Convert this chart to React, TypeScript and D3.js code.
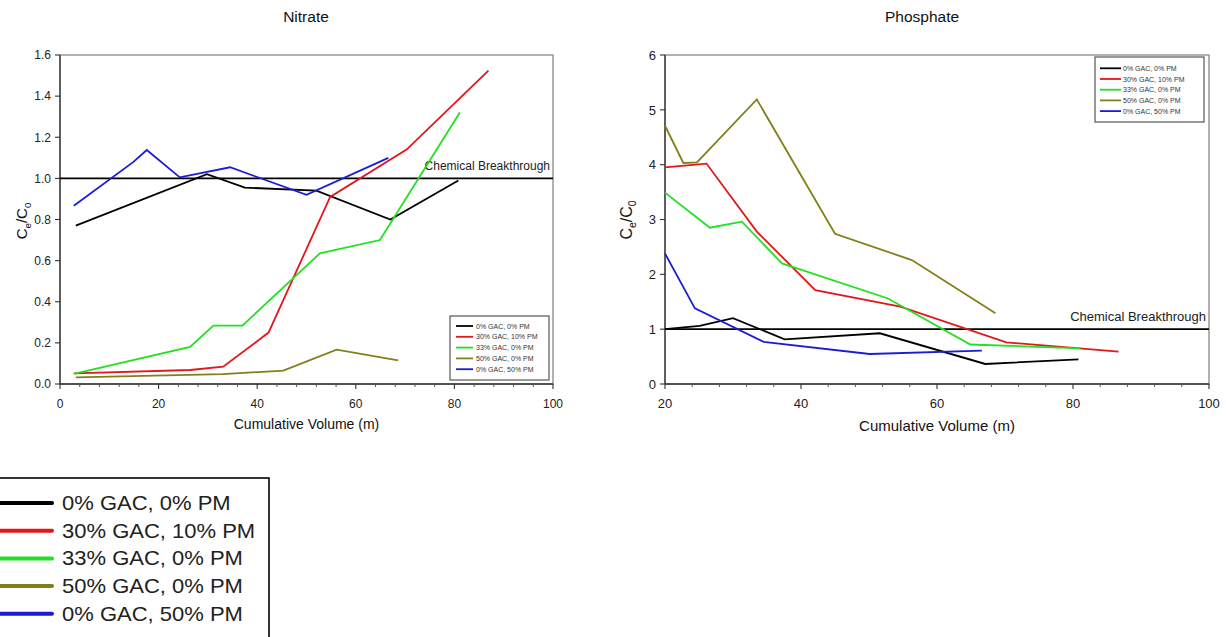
import React from "react";
import * as d3 from "d3";

const seriesNames = ["0% GAC, 0% PM", "30% GAC, 10% PM", "33% GAC, 0% PM", "50% GAC, 0% PM", "0% GAC, 50% PM"];
const seriesColors = ["#000000", "#e3161b", "#22e022", "#80801a", "#1c1cd8"];

// Nitrate
const nitrateBlackX = [3.2, 29.8, 37.5, 52, 67, 80.8];
const nitrateBlackY = [0.77, 1.02, 0.955, 0.94, 0.8, 0.99];
const nitrateRedX = [2.8, 26.4, 33.1, 42.3, 54.8, 70.3, 86.9];
const nitrateRedY = [0.052, 0.068, 0.084, 0.25, 0.91, 1.14, 1.524];
const nitrateGreenX = [2.8, 26.4, 31.1, 37, 52.7, 64.9, 81.1];
const nitrateGreenY = [0.049, 0.18, 0.284, 0.284, 0.635, 0.7, 1.32];
const nitrateOliveX = [3.2, 33, 45.3, 56.1, 68.6];
const nitrateOliveY = [0.032, 0.048, 0.065, 0.167, 0.115];
const nitrateBlueX = [2.8, 14.9, 17.6, 24.3, 34.5, 50, 66.6];
const nitrateBlueY = [0.867, 1.08, 1.138, 1.005, 1.054, 0.92, 1.1];

// Phosphate
const phosBlackX = [20, 25.1, 30, 37.6, 51.6, 67.1, 80.8];
const phosBlackY = [1.0, 1.06, 1.2, 0.815, 0.925, 0.365, 0.45];
const phosRedX = [20, 26.1, 33.5, 42.1, 54.6, 70.2, 86.7];
const phosRedY = [3.95, 4.02, 2.78, 1.71, 1.41, 0.76, 0.59];
const phosGreenX = [20, 26.6, 31.3, 37.2, 52.8, 64.9, 81.1];
const phosGreenY = [3.49, 2.85, 2.96, 2.2, 1.56, 0.72, 0.65];
const phosOliveX = [20, 22.7, 24.7, 33.5, 45, 56.3, 68.6];
const phosOliveY = [4.71, 4.03, 4.04, 5.19, 2.74, 2.26, 1.29];
const phosBlueX = [20, 24.4, 34.5, 50.1, 66.6];
const phosBlueY = [2.38, 1.38, 0.77, 0.547, 0.61];

const nitrateXTicks = [0, 20, 40, 60, 80, 100];
const nitrateYTicks = [0, 0.2, 0.4, 0.6, 0.8, 1.0, 1.2, 1.4, 1.6];
const phosXTicks = [20, 40, 60, 80, 100];
const phosYTicks = [0, 1, 2, 3, 4, 5, 6];
const breakthroughLevel = 1.0;
const breakthroughLabel = "Chemical Breakthrough";
const xAxisLabel = "Cumulative Volume (m)";

const FONT = "'Liberation Sans', Arial, sans-serif";

type Series = { xs: number[]; ys: number[] };

const nitrateSeries: Series[] = [
  { xs: nitrateBlackX, ys: nitrateBlackY },
  { xs: nitrateRedX, ys: nitrateRedY },
  { xs: nitrateGreenX, ys: nitrateGreenY },
  { xs: nitrateOliveX, ys: nitrateOliveY },
  { xs: nitrateBlueX, ys: nitrateBlueY },
];
const phosSeries: Series[] = [
  { xs: phosBlackX, ys: phosBlackY },
  { xs: phosRedX, ys: phosRedY },
  { xs: phosGreenX, ys: phosGreenY },
  { xs: phosOliveX, ys: phosOliveY },
  { xs: phosBlueX, ys: phosBlueY },
];

type PanelProps = {
  title: string;
  left: number; right: number; top: number; bottom: number;
  xDomain: [number, number]; yDomain: [number, number];
  xTicks: number[]; yTicks: number[]; yFmt: (v: number) => string;
  series: Series[];
  tickFont: number; labelFont: number; btFont: number;
  titleX: number;
  yLabelX: number; yLabelY: number;
  xLabelY: number;
  legend: { x0: number; x1: number; y0: number; y1: number; font: number; rowY0: number; rowStep: number; lineX0: number; lineX1: number; textX: number };
  minorStep: number;
};

function Panel(p: PanelProps) {
  const x = d3.scaleLinear().domain(p.xDomain).range([p.left, p.right]);
  const y = d3.scaleLinear().domain(p.yDomain).range([p.bottom, p.top]);
  const line = d3.line<[number, number]>().x((d) => x(d[0])).y((d) => y(d[1]));
  const minor = d3.range(p.xDomain[0], p.xDomain[1] + 0.001, p.minorStep).filter((v) => !p.xTicks.includes(v));
  const lg = p.legend;
  return (
    <g fontFamily={FONT}>
      <text x={p.titleX} y={22} textAnchor="middle" fontSize={15.5} fill="#111">{p.title}</text>
      {/* frame */}
      <rect x={p.left} y={p.top} width={p.right - p.left} height={p.bottom - p.top} fill="none" stroke="#888" strokeWidth={1.3} />
      <line x1={p.left} x2={p.left} y1={p.top} y2={p.bottom} stroke="#333" strokeWidth={1.3} />
      <line x1={p.left} x2={p.right} y1={p.bottom} y2={p.bottom} stroke="#333" strokeWidth={1.3} />
      {/* x ticks */}
      {p.xTicks.map((t) => (
        <g key={"xt" + t}>
          <line x1={x(t)} x2={x(t)} y1={p.bottom} y2={p.bottom + 5} stroke="#333" strokeWidth={1.1} />
          <text x={x(t)} y={p.bottom + 24} textAnchor="middle" fontSize={p.tickFont} fill="#222">{t}</text>
        </g>
      ))}
      {minor.map((t) => (
        <line key={"xm" + t} x1={x(t)} x2={x(t)} y1={p.bottom} y2={p.bottom + 3} stroke="#555" strokeWidth={1} />
      ))}
      {/* y ticks */}
      {p.yTicks.map((t) => (
        <g key={"yt" + t}>
          <line x1={p.left - 5} x2={p.left} y1={y(t)} y2={y(t)} stroke="#333" strokeWidth={1.1} />
          <text x={p.left - 9} y={y(t) + p.tickFont * 0.36} textAnchor="end" fontSize={p.tickFont} fill="#222">{p.yFmt(t)}</text>
        </g>
      ))}
      {/* axis labels */}
      <text x={(p.left + p.right) / 2} y={p.xLabelY} textAnchor="middle" fontSize={p.labelFont} fill="#111">{xAxisLabel}</text>
      <text transform={`translate(${p.yLabelX},${p.yLabelY}) rotate(-90)`} textAnchor="middle" fontSize={p.labelFont + 1} fill="#111">
        C<tspan fontSize={(p.labelFont + 1) * 0.65} dy={4}>e</tspan><tspan dy={-4}>/C</tspan><tspan fontSize={(p.labelFont + 1) * 0.65} dy={4}>0</tspan>
      </text>
      {/* breakthrough */}
      <line x1={p.left} x2={p.right} y1={y(breakthroughLevel)} y2={y(breakthroughLevel)} stroke="#000" strokeWidth={1.8} />
      <text x={p.right - 3} y={y(breakthroughLevel) - 8} textAnchor="end" fontSize={p.btFont} fill="#222">{breakthroughLabel}</text>
      {/* series */}
      {p.series.map((s, i) => (
        <path key={"s" + i} d={line(s.xs.map((v, j) => [v, s.ys[j]] as [number, number])) || ""} fill="none" stroke={seriesColors[i]} strokeWidth={1.8} strokeLinejoin="miter" />
      ))}
      {/* inner legend */}
      <rect x={lg.x0} y={lg.y0} width={lg.x1 - lg.x0} height={lg.y1 - lg.y0} fill="#fff" stroke="#555" strokeWidth={1.2} />
      {seriesNames.map((n, i) => (
        <g key={"lg" + i}>
          <line x1={lg.lineX0} x2={lg.lineX1} y1={lg.rowY0 + i * lg.rowStep} y2={lg.rowY0 + i * lg.rowStep} stroke={seriesColors[i]} strokeWidth={1.8} />
          <text x={lg.textX} y={lg.rowY0 + i * lg.rowStep + lg.font * 0.36} fontSize={lg.font} fill="#333">{n}</text>
        </g>
      ))}
    </g>
  );
}

export default function App() {
  return (
    <svg width={1226} height={637} style={{ position: "absolute", left: 0, top: 0, background: "#fff" }}>
      <rect x={0} y={0} width={1226} height={637} fill="#fff" />
      <Panel
        title="Nitrate"
        left={60} right={553} top={55} bottom={384}
        xDomain={[0, 100]} yDomain={[0, 1.6]}
        xTicks={nitrateXTicks} yTicks={nitrateYTicks} yFmt={(v) => v.toFixed(1)}
        series={nitrateSeries}
        tickFont={12} labelFont={14} btFont={12}
        titleX={306}
        yLabelX={27} yLabelY={221}
        xLabelY={429}
        minorStep={4}
        legend={{ x0: 450, x1: 549, y0: 316, y1: 380, font: 7, rowY0: 326, rowStep: 10.8, lineX0: 456, lineX1: 473, textX: 476 }}
      />
      <Panel
        title="Phosphate"
        left={665} right={1209} top={55} bottom={384}
        xDomain={[20, 100]} yDomain={[0, 6]}
        xTicks={phosXTicks} yTicks={phosYTicks} yFmt={(v) => String(v)}
        series={phosSeries}
        tickFont={13} labelFont={15} btFont={13}
        titleX={922}
        yLabelX={632} yLabelY={220}
        xLabelY={431}
        minorStep={4}
        legend={{ x0: 1095, x1: 1204, y0: 57, y1: 122, font: 7, rowY0: 68.3, rowStep: 10.7, lineX0: 1100, lineX1: 1121, textX: 1123 }}
      />
      {/* big legend */}
      <g fontFamily={FONT}>
        <rect x={-5} y={478} width={274} height={170} fill="#fff" stroke="#000" strokeWidth={1.6} />
        {seriesNames.map((n, i) => (
          <g key={"bl" + i}>
            <line x1={0} x2={52} y1={503 + i * 27.7} y2={503 + i * 27.7} stroke={seriesColors[i]} strokeWidth={4} strokeLinecap="round" />
            <text transform={`translate(62,${503 + i * 27.7 + 7}) scale(1.1,1)`} fontSize={20} fill="#222">{n}</text>
          </g>
        ))}
      </g>
    </svg>
  );
}
